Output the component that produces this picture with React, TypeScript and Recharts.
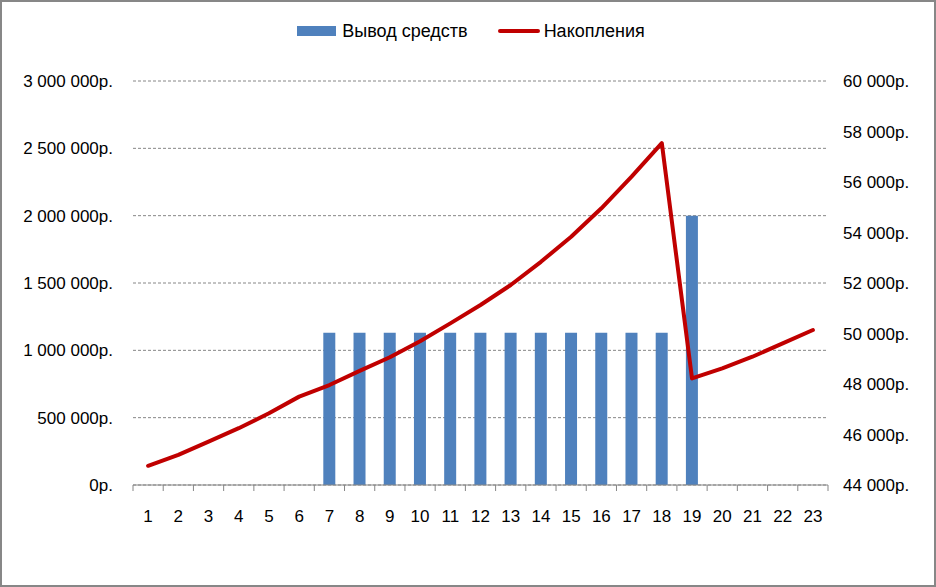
import { Bar, CartesianGrid, ComposedChart, Legend, Line, XAxis, YAxis } from "recharts";

const YEARS = [1, 2, 3, 4, 5, 6, 7, 8, 9, 10, 11, 12, 13, 14, 15, 16, 17, 18, 19, 20, 21, 22, 23];

// Вывод средств, руб. (left axis)
const WITHDRAWALS = [
  0, 0, 0, 0, 0, 0, 1130000, 1130000, 1130000, 1130000, 1130000, 1130000, 1130000, 1130000,
  1130000, 1130000, 1130000, 1130000, 2000000, 0, 0, 0, 0,
];

// Накопления, руб. (right axis)
const SAVINGS = [
  44760, 45190, 45720, 46250, 46840, 47500, 47960, 48520, 49060, 49690, 50400, 51130, 51920,
  52840, 53830, 54960, 56210, 57540, 48220, 48620, 49080, 49610, 50140,
];

const LEFT_TICKS = [0, 500000, 1000000, 1500000, 2000000, 2500000, 3000000];
const RIGHT_TICKS = [44000, 46000, 48000, 50000, 52000, 54000, 56000, 58000, 60000];

const data = YEARS.map((year, i) => ({
  year,
  withdrawal: WITHDRAWALS[i],
  savings: SAVINGS[i],
}));

const W = 936;
const H = 587;
const LEFT_W = 133;
const RIGHT_W = 108;
const PLOT_W = W - LEFT_W - RIGHT_W;
const FONT = '"Liberation Sans", Arial, sans-serif';
const AXIS_GREY = "#868686";

const rub = (v: number) => String(v).replace(/\B(?=(\d{3})+(?!\d))/g, " ") + "р.";

function YearTick({ x, y, payload, index }: any) {
  const half = PLOT_W / YEARS.length / 2;
  return (
    <g>
      <line x1={x - half} x2={x - half} y1={y} y2={y + 6} stroke={AXIS_GREY} />
      {index === YEARS.length - 1 && <line x1={x + half} x2={x + half} y1={y} y2={y + 6} stroke={AXIS_GREY} />}
      <text x={x} y={y + 37} textAnchor="middle" fill="#000" fontSize={17} fontFamily={FONT}>
        {payload.value}
      </text>
    </g>
  );
}

function ChartLegend() {
  return (
    <div style={{ height: 81, paddingTop: 19, boxSizing: "border-box" }}>
      <div
        style={{
          display: "flex",
          justifyContent: "center",
          alignItems: "center",
          height: 24,
          marginLeft: 6,
          fontFamily: FONT,
          fontSize: 18,
          color: "#000",
        }}
      >
        <span style={{ width: 39, height: 10, background: "#4F81BD", marginRight: 6 }} />
        <span>Вывод средств</span>
        <span style={{ width: 42, height: 4, background: "#C00000", marginLeft: 30, marginRight: 4, borderRadius: 2 }} />
        <span>Накопления</span>
      </div>
    </div>
  );
}

export default function App() {
  return (
    <div style={{ position: "relative", width: W, height: H, background: "#fff" }}>
      <style>{"body{margin:0}"}</style>
      <ComposedChart width={W} height={H} data={data} margin={{ top: 0, right: 0, bottom: 72, left: 0 }}>
        <Legend verticalAlign="top" align="center" content={() => <ChartLegend />} />
        <CartesianGrid yAxisId="left" vertical={false} stroke={AXIS_GREY} strokeDasharray="3 2" />
        <XAxis
          dataKey="year"
          height={30}
          tickSize={0}
          tickMargin={0}
          tickLine={false}
          axisLine={{ stroke: AXIS_GREY }}
          tick={<YearTick />}
          interval={0}
        />
        <YAxis
          yAxisId="left"
          orientation="left"
          width={LEFT_W}
          domain={[0, 3000000]}
          ticks={LEFT_TICKS}
          tickFormatter={rub}
          tickSize={0}
          tickMargin={20}
          tickLine={false}
          axisLine={false}
          tick={{ fill: "#000", fontSize: 17, fontFamily: FONT }}
        />
        <YAxis
          yAxisId="right"
          orientation="right"
          width={RIGHT_W}
          domain={[44000, 60000]}
          ticks={RIGHT_TICKS}
          tickFormatter={rub}
          tickSize={0}
          tickMargin={15}
          tickLine={false}
          axisLine={false}
          tick={{ fill: "#000", fontSize: 17, fontFamily: FONT }}
        />
        <Bar yAxisId="left" dataKey="withdrawal" name="Вывод средств" fill="#4F81BD" barSize={12} isAnimationActive={false} />
        <Line
          yAxisId="right"
          dataKey="savings"
          name="Накопления"
          type="linear"
          stroke="#C00000"
          strokeWidth={4}
          strokeLinejoin="round"
          strokeLinecap="round"
          dot={false}
          activeDot={false}
          isAnimationActive={false}
        />
      </ComposedChart>
      <div
        style={{
          position: "absolute",
          inset: 0,
          border: "2px solid #878787",
          pointerEvents: "none",
        }}
      />
    </div>
  );
}
